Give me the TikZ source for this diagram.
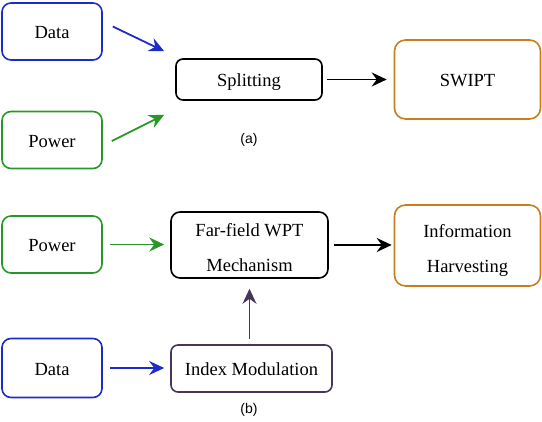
\documentclass[tikz,border=0pt]{standalone}
\usepackage{fontspec}
\setmainfont{Liberation Serif}
\setsansfont{Liberation Sans}
\usetikzlibrary{arrows.meta,calc}
\definecolor{cblue}{RGB}{28,44,200}
\definecolor{cgreen}{RGB}{40,150,40}
\definecolor{corange}{RGB}{200,125,30}
\definecolor{cpurple}{RGB}{70,55,90}
\tikzset{
  box/.style={draw, line width=1.6pt, rounded corners=9pt, align=center, inner sep=0pt,
    text height=15pt, text depth=0pt,
    font=\fontsize{18.5}{35}\selectfont},
  twoline/.style={text height=53.5pt},
  arr/.style={line width=1.8pt, -{Stealth[length=15pt,width=14pt,inset=5pt]}},
  sublabel/.style={font=\sffamily\fontsize{14}{16}\selectfont}
}
\begin{document}
\begin{tikzpicture}[x=1pt,y=-1pt]
\useasboundingbox (0,0) rectangle (542,422);
% (a)
\node[box, draw=cblue, minimum width=100pt, minimum height=57pt] (da) at (52,31.5) {Data};
\node[box, draw=cgreen, minimum width=100pt, minimum height=57pt] (pa) at (52,140) {Power};
\node[box, draw=black, rounded corners=7pt, minimum width=146pt, minimum height=41pt] (sp) at (249,79.5) {Splitting};
\node[box, draw=corange, rounded corners=11pt, minimum width=146pt, minimum height=79pt] (sw) at (467.5,79.5) {SWIPT};
\node[sublabel] (la) at (249,140) {(a)};
\draw[arr, cblue] ($(da.east)+(10,-5)$) -- ($(sp.north west)+(-11,-7)$);
\draw[arr, cgreen] ($(pa.east)+(9,1)$) -- ($(sp.south west)+(-11,14)$);
\draw[arr, black, shorten <=4pt, shorten >=7pt] (sp.east) -- (sw.west);
% (b)
\node[box, draw=cgreen, minimum width=100pt, minimum height=57pt] (pb) at (52,244.5) {Power};
\node[box, draw=cblue, minimum width=100pt, minimum height=59pt] (db) at (52,368) {Data};
\node[box, twoline, draw=black, rounded corners=9pt, minimum width=157pt, minimum height=66pt] (fw) at (249.5,245) {Far-field WPT\\Mechanism};
\node[box, twoline, draw=corange, rounded corners=11pt, minimum width=146pt, minimum height=81pt] (ih) at (467.5,245.5) {Information\\Harvesting};
\node[box, draw=cpurple, rounded corners=7pt, minimum width=161pt, minimum height=47pt] (im) at (251.5,368.5) {Index Modulation};
\node[sublabel] (lb) at (249,410) {(b)};
\draw[arr, cgreen, shorten <=7pt, shorten >=6pt] (pb.east) -- (pb.east -| fw.west);
\draw[arr, cblue, shorten <=7pt, shorten >=6pt] (db.east) -- (db.east -| im.west);
\draw[arr, black, shorten <=5pt, shorten >=2pt] (fw.east) -- (fw.east -| ih.west);
\draw[arr, cpurple, shorten <=5pt, shorten >=10pt] (fw.south |- im.north) -- (fw.south);
\end{tikzpicture}
\end{document}
